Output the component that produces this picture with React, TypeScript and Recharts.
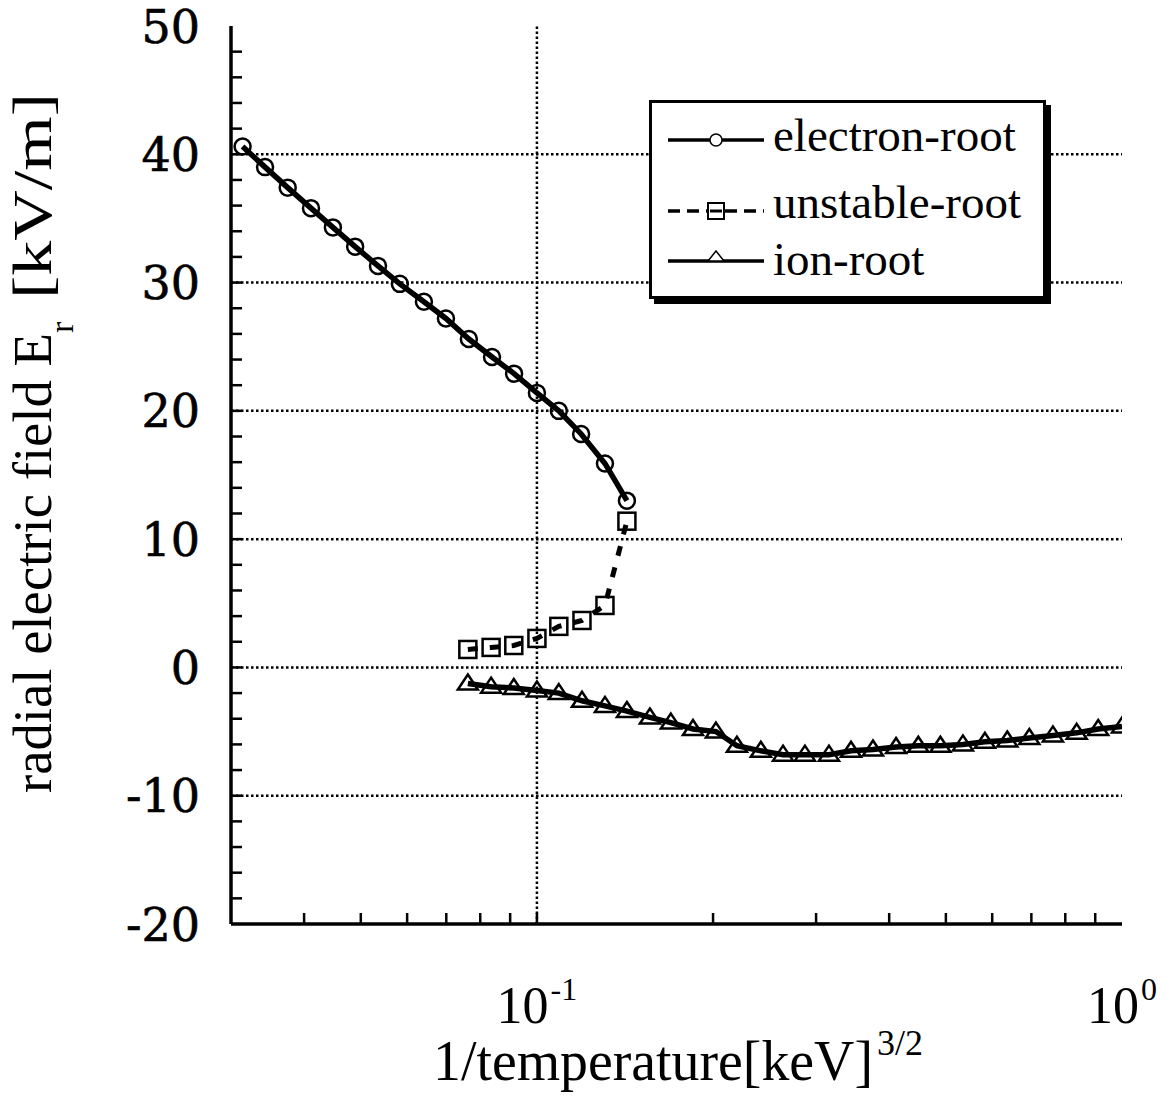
import React from 'react';
import { LineChart, Line, XAxis, YAxis, ReferenceLine } from 'recharts';

// ---- data ----
const electronX = [0.0314, 0.0343, 0.0375, 0.0411, 0.0448, 0.0489, 0.0535, 0.0583, 0.0641, 0.0699, 0.0765, 0.0838, 0.0914, 0.1, 0.109, 0.119, 0.1307, 0.1425];
const electronY = [40.6, 39.0, 37.4, 35.8, 34.3, 32.8, 31.3, 29.9, 28.5, 27.2, 25.6, 24.2, 22.9, 21.4, 20.0, 18.2, 15.9, 13.0];

const unstableX = [0.0762, 0.0835, 0.0913, 0.1, 0.109, 0.1194, 0.1307, 0.1425];
const unstableY = [1.4, 1.56, 1.71, 2.26, 3.2, 3.66, 4.83, 11.4];

const ionX = [0.0762, 0.0835, 0.0913, 0.1, 0.109, 0.1194, 0.1307, 0.1425, 0.156, 0.1694, 0.1848, 0.2023, 0.2197, 0.2414, 0.2634, 0.2871, 0.3156, 0.3442, 0.3753, 0.411, 0.4486, 0.4893, 0.5347, 0.5831, 0.6367, 0.6943, 0.7619, 0.8367, 0.9105, 1.0];
const ionY = [-1.25, -1.5, -1.6, -1.8, -2.0, -2.6, -3.0, -3.4, -3.9, -4.3, -4.8, -5.0, -6.1, -6.5, -6.8, -6.8, -6.8, -6.5, -6.4, -6.2, -6.1, -6.1, -6.0, -5.8, -5.7, -5.5, -5.3, -5.1, -4.8, -4.6];

const xDomain = [0.03, 1];
const yDomain = [-20, 50];
const xTicks = [0.04, 0.05, 0.06, 0.07, 0.08, 0.09, 0.1, 0.2, 0.3, 0.4, 0.5, 0.6, 0.7, 0.8, 0.9, 1];
const xTickExponents: Record<string, string> = { '0.1': '-1', '1': '0' };
const yTicks = [-20, -18, -16, -14, -12, -10, -8, -6, -4, -2, 0, 2, 4, 6, 8, 10, 12, 14, 16, 18, 20, 22, 24, 26, 28, 30, 32, 34, 36, 38, 40, 42, 44, 46, 48, 50];
const yLabelled = [-20, -10, 0, 10, 20, 30, 40, 50];
const yGrid = [-10, 0, 10, 20, 30, 40];
const xGrid = [0.1];

const seriesNames = ['electron-root', 'unstable-root', 'ion-root'];
const xTitle = '1/temperature[keV]';
const xTitleSup = '3/2';
const yTitleMain = 'radial electric field  E';
const yTitleSub = 'r';
const yTitleUnit = '[kV/m]';

const zip = (xs: number[], ys: number[]) => xs.map((x, i) => ({ x, y: ys[i] }));
const electronData = zip(electronX, electronY);
const unstableData = zip(unstableX, unstableY);
const ionData = zip(ionX, ionY);

const SERIF = '"Liberation Serif", "Times New Roman", serif';
const TICKLEN = 11;
const AXIS = { stroke: '#000', strokeWidth: 3.5 };

const BottomTick = (props: any) => {
  const { x, y, payload } = props;
  const v = payload.value;
  const exp = xTickExponents[String(v)];
  return (
    <g>
      {v < 1 ? <line x1={x} y1={y} x2={x} y2={y - TICKLEN} stroke="#000" strokeWidth={2.5} /> : null}
      {exp !== undefined ? (
        <text x={x} y={y + 99} textAnchor="middle" fontFamily={SERIF} fontSize={52} fill="#000">
          <tspan>10</tspan>
          <tspan dx={2} dy={-23} fontSize={32}>{exp}</tspan>
        </text>
      ) : null}
    </g>
  );
};

const TopTick = (props: any) => {
  const { x, y, payload } = props;
  if (payload.value >= 1) return <g />;
  return <line x1={x} y1={y} x2={x} y2={y + TICKLEN} stroke="#000" strokeWidth={2.5} />;
};

const LeftTick = (props: any) => {
  const { x, y, payload } = props;
  const v = payload.value;
  return (
    <g>
      {v > -20 && v < 50 ? <line x1={x} y1={y} x2={x + TICKLEN} y2={y} stroke="#000" strokeWidth={2.5} /> : null}
      {yLabelled.includes(v) ? (
        <text x={x - 31} y={y} dy="0.36em" textAnchor="end" fontFamily='"DejaVu Serif", serif' fontSize={46} fill="#000" stroke="#000" strokeWidth={0.6}>
          {v}
        </text>
      ) : null}
    </g>
  );
};

const RightTick = (props: any) => {
  const { x, y, payload } = props;
  const v = payload.value;
  if (v <= -20 || v >= 50) return <g />;
  return <line x1={x} y1={y} x2={x - TICKLEN} y2={y} stroke="#000" strokeWidth={2.5} />;
};

const XTitle = () => (
  <g>
    <text x={433} y={1080} fontFamily={SERIF} fontSize={56} fill="#000" textLength={440} lengthAdjust="spacingAndGlyphs">
      {xTitle}
    </text>
    <text x={877} y={1055} fontFamily={SERIF} fontSize={36} fill="#000" textLength={46} lengthAdjust="spacingAndGlyphs">
      {xTitleSup}
    </text>
  </g>
);

const YTitle = () => (
  <g>
    <text transform="translate(51,793) rotate(-90)" fontFamily={SERIF} fontSize={55} fill="#000" textLength={460} lengthAdjust="spacingAndGlyphs">
      {yTitleMain}
    </text>
    <text transform="translate(73,333) rotate(-90)" fontFamily={SERIF} fontSize={34} fill="#000">
      {yTitleSub}
    </text>
    <text transform="translate(51,299) rotate(-90)" fontFamily={SERIF} fontSize={55} fill="#000" textLength={206} lengthAdjust="spacingAndGlyphs">
      {yTitleUnit}
    </text>
  </g>
);

const CircleDot = (props: any) => {
  const { cx, cy, index } = props;
  return <circle key={`c${index}`} cx={cx} cy={cy} r={8} fill="none" stroke="#000" strokeWidth={2.5} />;
};

const SquareDot = (props: any) => {
  const { cx, cy, index } = props;
  return <rect key={`s${index}`} x={cx - 8.5} y={cy - 8.5} width={17} height={17} fill="none" stroke="#000" strokeWidth={2.5} />;
};

const TriangleDot = (props: any) => {
  const { cx, cy, index } = props;
  return (
    <polygon
      key={`t${index}`}
      points={`${cx},${cy - 9} ${cx + 10},${cy + 6} ${cx - 10},${cy + 6}`}
      fill="none"
      stroke="#000"
      strokeWidth={2.5}
    />
  );
};

const LegendBox = () => {
  const rows = [
    { y: 37, text: 48, dash: undefined as string | undefined, marker: 'circle' },
    { y: 108, text: 115, dash: '12 7', marker: 'square' },
    { y: 158, text: 172, dash: undefined, marker: 'triangle' },
  ];
  return (
    <div
      style={{
        position: 'absolute',
        left: 649,
        top: 100,
        width: 397,
        height: 199,
        boxSizing: 'border-box',
        border: '3px solid #000',
        boxShadow: '5px 5px 0 #000',
        background: '#fff',
      }}
    >
      <svg width={391} height={193} style={{ position: 'absolute', left: 0, top: 0 }}>
        {rows.map((r, i) => (
          <g key={i}>
            <line x1={16} x2={112} y1={r.y} y2={r.y} stroke="#000" strokeWidth={3.5} strokeDasharray={r.dash} />
            {r.marker === 'circle' ? <circle cx={64} cy={r.y} r={6} fill="#fff" stroke="#000" strokeWidth={1.5} /> : null}
            {r.marker === 'square' ? <rect x={56} y={r.y - 8} width={16} height={16} fill="#fff" stroke="#000" strokeWidth={2} /> : null}
            {r.marker === 'square' ? <line x1={58} x2={70} y1={r.y} y2={r.y} stroke="#000" strokeWidth={3} /> : null}
            {r.marker === 'triangle' ? <polygon points={`64,${r.y - 10} 72,${r.y} 56,${r.y}`} fill="#fff" stroke="#000" strokeWidth={1.5} /> : null}
            <text x={121} y={r.text} fontFamily={SERIF} fontSize={47} fill="#000">
              {seriesNames[i]}
            </text>
          </g>
        ))}
      </svg>
    </div>
  );
};

export default function App() {
  return (
    <div style={{ position: 'absolute', left: 0, top: 0, width: 1168, height: 1115, background: '#fff' }}>
      <LineChart width={1168} height={1115} margin={{ top: 26, right: 46, bottom: 0, left: 0 }}>
        <XAxis
          dataKey="x"
          type="number"
          scale="log"
          domain={xDomain}
          allowDataOverflow
          ticks={xTicks}
          interval={0}
          height={191}
          tickSize={0}
          tickMargin={0}
          tickLine={false}
          axisLine={AXIS}
          tick={<BottomTick />}
          label={<XTitle />}
        />
        <XAxis
          xAxisId="top"
          orientation="top"
          dataKey="x"
          type="number"
          scale="log"
          domain={xDomain}
          allowDataOverflow
          ticks={xTicks}
          interval={0}
          height={0}
          tickSize={0}
          tickMargin={0}
          tickLine={false}
          axisLine={AXIS}
          tick={<TopTick />}
        />
        <YAxis
          type="number"
          domain={yDomain}
          allowDataOverflow
          ticks={yTicks}
          interval={0}
          width={231}
          tickSize={0}
          tickMargin={0}
          tickLine={false}
          axisLine={AXIS}
          tick={<LeftTick />}
          label={<YTitle />}
        />
        <YAxis
          yAxisId="right"
          orientation="right"
          type="number"
          domain={yDomain}
          allowDataOverflow
          ticks={yTicks}
          interval={0}
          width={0}
          tickSize={0}
          tickMargin={0}
          tickLine={false}
          axisLine={AXIS}
          tick={<RightTick />}
        />
        {yGrid.map((v) => (
          <ReferenceLine key={`gy${v}`} y={v} stroke="#000" strokeWidth={2.5} strokeDasharray="2.5 2.5" />
        ))}
        {xGrid.map((v) => (
          <ReferenceLine key={`gx${v}`} x={v} stroke="#000" strokeWidth={2.5} strokeDasharray="2.5 2.5" />
        ))}
        <Line data={electronData} dataKey="y" name={seriesNames[0]} type="linear" stroke="#000" strokeWidth={5.5} dot={<CircleDot />} isAnimationActive={false} />
        <Line data={unstableData} dataKey="y" name={seriesNames[1]} type="linear" stroke="#000" strokeWidth={5} strokeDasharray="10 12" dot={<SquareDot />} isAnimationActive={false} />
        <Line data={ionData} dataKey="y" name={seriesNames[2]} type="linear" stroke="#000" strokeWidth={5.5} dot={<TriangleDot />} isAnimationActive={false} />
      </LineChart>
      <LegendBox />
    </div>
  );
}
